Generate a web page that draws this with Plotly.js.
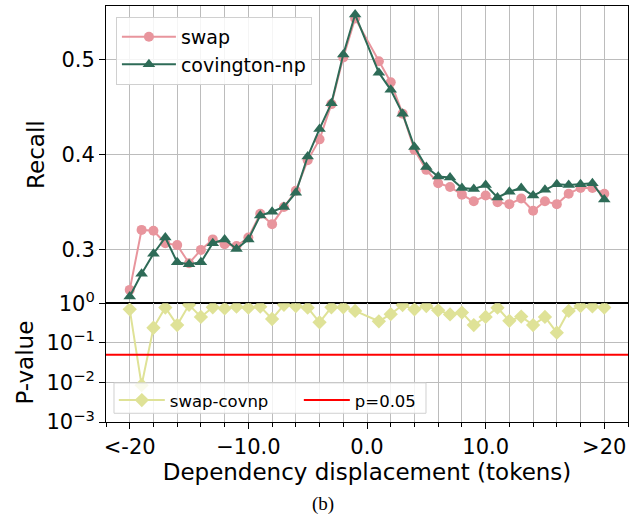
<!DOCTYPE html>
<html>
<head>
<meta charset="utf-8">
<script src="https://cdn.plot.ly/plotly-3.0.1.min.js"></script>
<style>html,body{margin:0;padding:0;background:#fff;}</style>
</head>
<body>
<div id="chart" style="width:644px;height:523px;"></div>
<script>
// Dependency displacement (0 does not occur)
const displacement = [-20,-19,-18,-17,-16,-15,-14,-13,-12,-11,-10,-9,-8,-7,-6,-5,-4,-3,-2,-1,
                      1,2,3,4,5,6,7,8,9,10,11,12,13,14,15,16,17,18,19,20];
const swapRecall = [0.258,0.321,0.320,0.307,0.305,0.286,0.300,0.311,0.306,0.304,
                    0.313,0.338,0.327,0.345,0.362,0.394,0.416,0.453,0.502,0.543,
                    0.498,0.476,0.443,0.405,0.384,0.370,0.366,0.358,0.351,0.357,
                    0.350,0.348,0.354,0.341,0.351,0.348,0.359,0.365,0.365,0.359];
const covingtonRecall = [0.251,0.275,0.296,0.313,0.287,0.285,0.287,0.307,0.311,0.301,
                         0.311,0.336,0.340,0.345,0.360,0.398,0.427,0.454,0.505,0.547,
                         0.486,0.468,0.443,0.408,0.387,0.377,0.376,0.365,0.364,0.368,
                         0.355,0.361,0.365,0.357,0.363,0.369,0.368,0.369,0.370,0.353];
const pValues = [0.70,0.0085,0.24,0.78,0.28,0.91,0.45,0.79,0.74,0.82,
                 0.77,0.82,0.40,0.91,0.85,0.77,0.33,0.79,0.79,0.64,
                 0.35,0.53,0.90,0.70,0.85,0.66,0.52,0.58,0.28,0.45,
                 0.77,0.36,0.46,0.28,0.45,0.18,0.64,0.85,0.83,0.78];
const pThreshold = 0.05;
const xTickVals = [-20,-10,0,10,20];
const xTickText = ['<-20','\u221210.0','0.0','10.0','>20'];
const recallTicks = [0.3,0.4,0.5];
const pTickVals = [1,0.1,0.01,0.001];
const pTickText = ['10<sup>0</sup>','10<sup>\u22121</sup>','10<sup>\u22122</sup>','10<sup>\u22123</sup>'];

const X_RANGE = [-22, 22];
const GRID = '#bcbcbc';
const FONT = 'DejaVu Sans, sans-serif';
const SPLIT = 0.2855;

const traces = [
  {x: displacement, y: swapRecall, name: 'swap', type: 'scatter', mode: 'lines+markers',
   xaxis: 'x', yaxis: 'y', legend: 'legend',
   line: {color: '#e8959d', width: 2}, marker: {symbol: 'circle', size: 10, color: '#e8959d'}},
  {x: displacement, y: covingtonRecall, name: 'covington-np', type: 'scatter', mode: 'lines+markers',
   xaxis: 'x', yaxis: 'y', legend: 'legend',
   line: {color: '#2e6b57', width: 2}, marker: {symbol: 'triangle-up', size: 11, color: '#2e6b57'}},
  {x: displacement, y: pValues, name: 'swap-covnp', type: 'scatter', mode: 'lines+markers',
   xaxis: 'x2', yaxis: 'y2', legend: 'legend2',
   line: {color: '#dfe297', width: 2}, marker: {symbol: 'diamond', size: 11, color: '#dfe297'}},
  {x: X_RANGE, y: [pThreshold, pThreshold], name: 'p=0.05', type: 'scatter', mode: 'lines',
   xaxis: 'x2', yaxis: 'y2', legend: 'legend2',
   line: {color: '#ff0000', width: 2}}
];

const layout = {
  width: 644, height: 523,
  margin: {l: 106, r: 16, t: 6, b: 101},
  paper_bgcolor: '#ffffff', plot_bgcolor: '#ffffff',
  font: {family: FONT, color: '#000000', size: 21},
  xaxis: {
    domain: [0, 1], anchor: 'y', range: X_RANGE,
    tick0: 0, dtick: 2, showticklabels: false, ticks: '',
    showgrid: true, gridcolor: GRID, gridwidth: 1, zeroline: false,
    showline: true, linecolor: '#000000', linewidth: 1, mirror: true
  },
  yaxis: {
    domain: [SPLIT, 1], anchor: 'x', range: [0.244, 0.556],
    tickmode: 'array', tickvals: recallTicks, ticktext: ['0.3','0.4','0.5'],
    ticks: 'outside', ticklen: 6, tickcolor: '#000000',
    tickfont: {size: 21, family: FONT},
    showgrid: true, gridcolor: GRID, gridwidth: 1, zeroline: false,
    showline: true, linecolor: '#000000', linewidth: 1, mirror: true,
    title: {text: 'Recall', font: {size: 23, family: FONT}, standoff: 10}
  },
  xaxis2: {
    domain: [0, 1], anchor: 'y2', range: X_RANGE,
    tickmode: 'array', tickvals: xTickVals, ticktext: xTickText,
    ticks: 'outside', ticklen: 6, tickcolor: '#000000',
    tickfont: {size: 21, family: FONT},
    minor: {tick0: 0, dtick: 2, ticks: 'outside', ticklen: 3.5, tickcolor: '#000000',
            showgrid: true, gridcolor: GRID, gridwidth: 1},
    showgrid: true, gridcolor: GRID, gridwidth: 1, zeroline: false,
    showline: true, linecolor: '#000000', linewidth: 1, mirror: true,
    title: {text: 'Dependency displacement (tokens)', font: {size: 23, family: FONT}, standoff: 4}
  },
  yaxis2: {
    domain: [0, SPLIT], anchor: 'x2', type: 'log', range: [-3, 0],
    tickmode: 'array', tickvals: pTickVals, ticktext: pTickText,
    ticks: 'outside', ticklen: 6, tickcolor: '#000000',
    tickfont: {size: 21, family: FONT},
    showgrid: true, gridcolor: GRID, gridwidth: 1, zeroline: false,
    showline: true, linecolor: '#000000', linewidth: 1, mirror: true,
    title: {text: 'P-value', font: {size: 23, family: FONT}, standoff: 6}
  },
  legend: {
    x: 0.019, y: 0.974, xanchor: 'left', yanchor: 'top',
    bgcolor: 'rgba(255,255,255,0.85)', bordercolor: '#d0d0d0', borderwidth: 1,
    font: {size: 19, family: FONT}, itemwidth: 54, tracegroupgap: 0
  },
  legend2: {
    x: 0.015, y: 0.094, xanchor: 'left', yanchor: 'top', orientation: 'h',
    bgcolor: 'rgba(0,0,0,0)', borderwidth: 0,
    font: {size: 16.5, family: FONT}, itemwidth: 46, entrywidth: 124
  },
  shapes: [
    // frame of the lower legend
    {type: 'rect', xref: 'paper', yref: 'paper', x0: 0.0153, x1: 0.613, y0: 0.021, y1: 0.094,
     layer: 'above', fillcolor: 'rgba(255,255,255,0.82)', line: {color: '#d0d0d0', width: 1}}
  ],
  annotations: [
    {text: '(b)', xref: 'paper', yref: 'paper', x: 0.415, y: -0.196,
     xanchor: 'center', yanchor: 'middle', showarrow: false,
     font: {family: 'Liberation Serif, Times New Roman, serif', size: 19, color: '#000000'}}
  ]
};

Plotly.newPlot('chart', traces, layout, {displayModeBar: false, staticPlot: true});
</script>
</body>
</html>
